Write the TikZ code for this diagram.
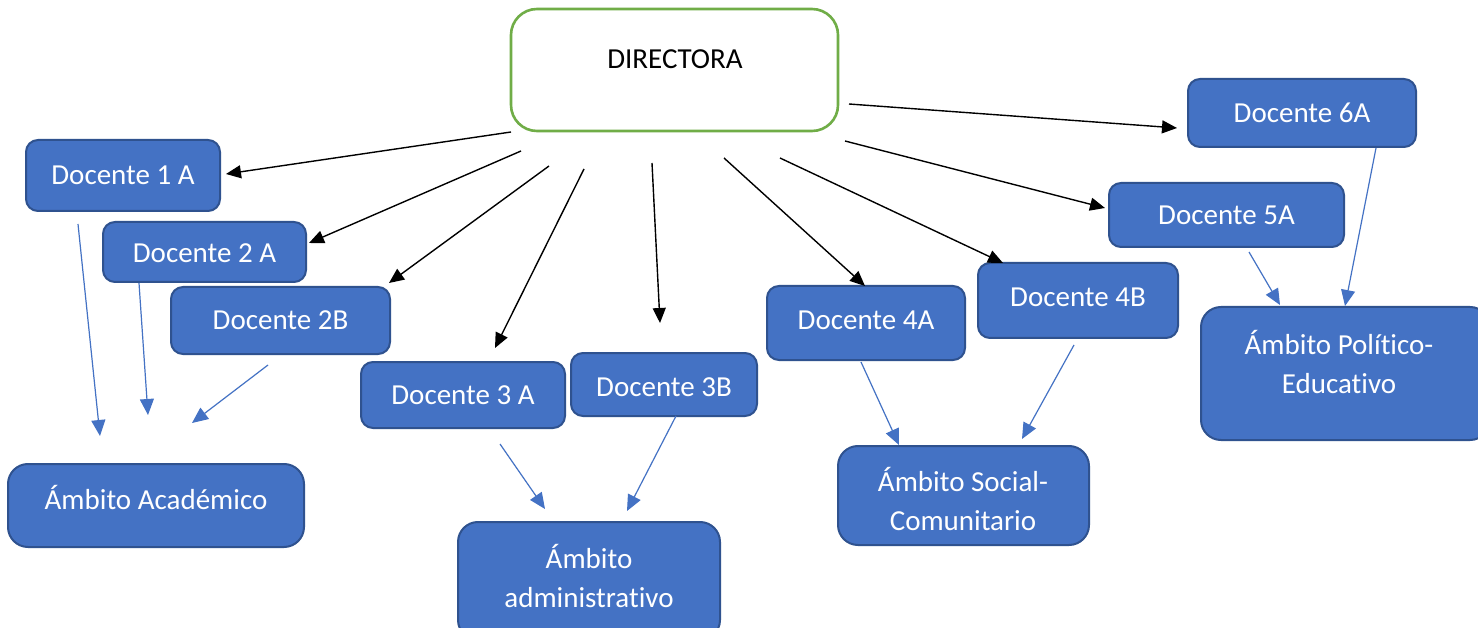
\documentclass[tikz,border=0pt]{standalone}
\usepackage{fontspec}
\setmainfont{Carlito}[Ligatures=NoCommon]
\usetikzlibrary{arrows.meta}
\definecolor{boxblue}{HTML}{4472C4}
\definecolor{boxedge}{HTML}{2F528F}
\definecolor{dirgreen}{HTML}{70AD47}
\tikzset{
  docbox/.style={draw=boxedge, fill=boxblue, line width=2pt, rounded corners=12pt, inner sep=0pt},
  ambbox/.style={draw=boxedge, fill=boxblue, line width=2pt, rounded corners=20pt, inner sep=0pt},
  dirbox/.style={draw=dirgreen, fill=white, line width=2.6pt, rounded corners=26pt, inner sep=0pt},
  wtext/.style={text=white, font=\fontsize{29}{39}\selectfont, align=center, inner sep=0pt},
  btext/.style={text=black, font=\fontsize{29}{39}\selectfont, align=center, inner sep=0pt},
  blackarr/.style={draw=black, line width=1.4pt, -{Triangle[length=15pt,width=13pt]}},
  bluearr/.style={draw=boxblue, line width=1.2pt, -{Triangle[length=16pt,width=14pt]}}
}
\begin{document}
\begin{tikzpicture}[x=1pt, y=-1pt]
\useasboundingbox (0,0) rectangle (1478,628);
\fill[white] (0,0) rectangle (1478,628);

% DIRECTORA
\path (511,9) -- (838,131) node[midway, dirbox, minimum width=327pt, minimum height=122pt] (dir) {};
\node[btext] (dirt) at (675,59) {DIRECTORA};

% Docentes
\path (26,140) -- (220,211) node[midway, docbox, wtext, minimum width=194pt, minimum height=71pt] (d1a) {Docente 1 A};
\path (103,222) -- (306,282) node[midway, docbox, wtext, minimum width=203pt, minimum height=60pt, text height=21pt] (d2a) {Docente 2 A};
\path (171,287) -- (390,354) node[midway, docbox, wtext, minimum width=219pt, minimum height=67pt] (d2b) {Docente 2B};
\path (361,362) -- (565,428) node[midway, docbox, wtext, minimum width=204pt, minimum height=66pt] (d3a) {Docente 3 A};
\path (571,353) -- (757,416) node[midway, docbox, wtext, minimum width=186pt, minimum height=63pt, text height=24.5pt] (d3b) {Docente 3B};
\path (767,286) -- (965,360) node[midway, docbox, wtext, minimum width=198pt, minimum height=74pt, text depth=6pt] (d4a) {Docente 4A};
\path (978,263) -- (1178,338) node[midway, docbox, wtext, minimum width=200pt, minimum height=75pt, text depth=6pt] (d4b) {Docente 4B};
\path (1109,183) -- (1344,247) node[midway, docbox, wtext, minimum width=235pt, minimum height=64pt] (d5a) {Docente 5A};
\path (1188,79) -- (1416,147) node[midway, docbox, wtext, minimum width=228pt, minimum height=68pt] (d6a) {Docente 6A};

% Ámbitos
\path (8,464) -- (304,547) node[midway, ambbox, minimum width=296pt, minimum height=83pt] (aacad) {};
\node[wtext] (aacadt) at (156,497) {Ámbito Académico};
\path (458,522) -- (720,640) node[midway, ambbox, minimum width=262pt, minimum height=118pt] (aadm) {};
\node[wtext] (aadmt) at (589,576) {Ámbito\\administrativo};
\path (838,446) -- (1089,545) node[midway, ambbox, minimum width=251pt, minimum height=99pt] (asoc) {};
\node[wtext] (asoct) at (963,499) {Ámbito Social-\\Comunitario};
\path (1201,307) -- (1490,440) node[midway, ambbox, minimum width=289pt, minimum height=133pt] (apol) {};
\node[wtext] (apolt) at (1339,362) {Ámbito Político-\\Educativo};

% Black arrow endpoints
\coordinate (s1) at (511,132); \coordinate (e1) at (226,174);
\coordinate (s2) at (521,151); \coordinate (e2) at (309,243);
\coordinate (s3) at (549,166); \coordinate (e3) at (389,283);
\coordinate (s4) at (584,169); \coordinate (e4) at (495,348);
\coordinate (s5) at (652,163); \coordinate (e5) at (660,323);
\coordinate (s6) at (724,158); \coordinate (e6) at (865,286);
\coordinate (s7) at (780,158); \coordinate (e7) at (1003,263);
\coordinate (s8) at (845,141); \coordinate (e8) at (1105,208);
\coordinate (s9) at (849,104); \coordinate (e9) at (1177,128);
\foreach \i in {1,...,9} { \draw[blackarr] (s\i) -- (e\i); }

% Blue arrow endpoints
\coordinate (b1s) at (78,224);   \coordinate (b1e) at (100,436);
\coordinate (b2s) at (139,283);  \coordinate (b2e) at (148,415);
\coordinate (b3s) at (268,365);  \coordinate (b3e) at (192,423);
\coordinate (b4s) at (500,444);  \coordinate (b4e) at (545,509);
\coordinate (b5s) at (676,416);  \coordinate (b5e) at (627,511);
\coordinate (b6s) at (861,362);  \coordinate (b6e) at (899,445);
\coordinate (b7s) at (1074,345); \coordinate (b7e) at (1022,439);
\coordinate (b8s) at (1249,252); \coordinate (b8e) at (1280,305);
\coordinate (b9s) at (1376,148); \coordinate (b9e) at (1345,306);
\foreach \i in {1,...,9} { \draw[bluearr] (b\i s) -- (b\i e); }
\end{tikzpicture}
\end{document}
